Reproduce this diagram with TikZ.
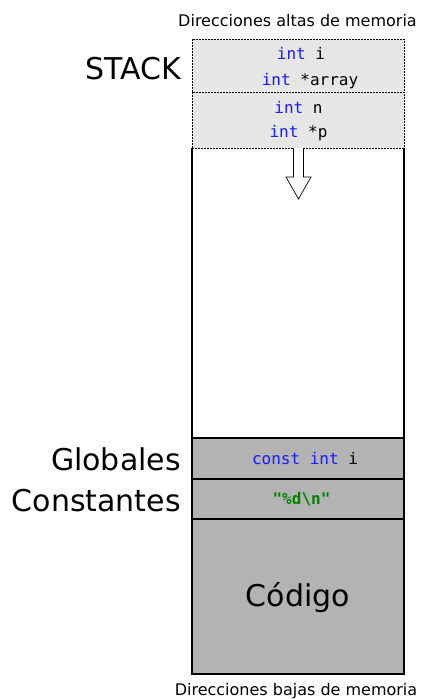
\documentclass[tikz,border=0pt]{standalone}
\usepackage{fontspec}
\setmainfont{DejaVu Sans}
\setmonofont{DejaVu Sans Mono}
\usetikzlibrary{positioning,calc}

\definecolor{kwblue}{RGB}{26,26,255}
\definecolor{strgreen}{RGB}{0,128,0}
\definecolor{stackgray}{RGB}{230,230,230}
\definecolor{segmgray}{RGB}{179,179,179}

\tikzset{
  frame/.style={draw, line width=0.9pt, dash pattern=on 2pt off 1pt, fill=stackgray, minimum width=212pt, inner sep=0pt, outer sep=0pt},
  segm/.style={draw, line width=1.1pt, fill=segmgray, minimum width=212pt, inner sep=0pt, outer sep=0pt},
  code/.style={font=\ttfamily\fontsize{16}{16}\selectfont, inner sep=0pt, anchor=base},
  area/.style={font=\fontsize{30}{30}\selectfont, inner sep=0pt, anchor=base east},
  addr/.style={font=\fontsize{16}{16}\selectfont, inner sep=0pt, anchor=base}
}
\newcommand{\kw}[1]{\textcolor{kwblue}{#1}}

\begin{document}
\begin{tikzpicture}[x=1pt,y=-1pt]
  \useasboundingbox (0,0) rectangle (423,699);

  \node[addr] (HIGH) at (297.5,26) {Direcciones altas de memoria};
  \node[addr] (LOW) at (296,695) {Direcciones bajas de memoria};

  % segmentos
  \node[segm, minimum height=41pt] (GLOB) at (298,458.5) {};
  \node[segm, minimum height=40pt] (CONST) at (298,499) {};
  \node[segm, minimum height=155pt] (CODE) at (298,596.5) {};

  % marcos del stack
  \node[frame, minimum height=53pt] (F1) at (298,65.5) {};
  \node[frame, minimum height=56pt] (F2) at (298,120) {};

  \draw[line width=1.1pt] (F2.south west) -- (GLOB.north west);
  \draw[line width=1.1pt] (F2.south east) -- (GLOB.north east);

  % crecimiento del stack
  \draw[fill=white, line width=0.7pt] ([xshift=-4.5pt]F2.south) -- ([shift={(-4.5,29)}]F2.south)
    -- ([shift={(-12,29)}]F2.south) -- ([shift={(0.5,51)}]F2.south)
    -- ([shift={(13,29)}]F2.south) -- ([shift={(5.5,29)}]F2.south) -- ([xshift=5.5pt]F2.south);

  \node[code] (VI) at (301,59) {\kw{int} i};
  \node[code] (VARR) at (310,85) {\kw{int} *array};
  \node[code] (VN) at (298.5,113) {\kw{int} n};
  \node[code] (VP) at (298.5,137) {\kw{int} *p};
  \node[code] (VCI) at (305,464) {\kw{const} \kw{int} i};
  \node[code, font=\ttfamily\bfseries\fontsize{16}{16}\selectfont, text=strgreen] (VFMT) at (301.5,504) {"\%d\textbackslash n"};

  \node[area] (LSTACK) at (181,79) {STACK};
  \node[area] (LGLOB) at (181,470) {Globales};
  \node[area] (LCONST) at (181,511) {Constantes};
  \node[area, anchor=base] (LCODE) at (298,606) {Código};
\end{tikzpicture}
\end{document}
